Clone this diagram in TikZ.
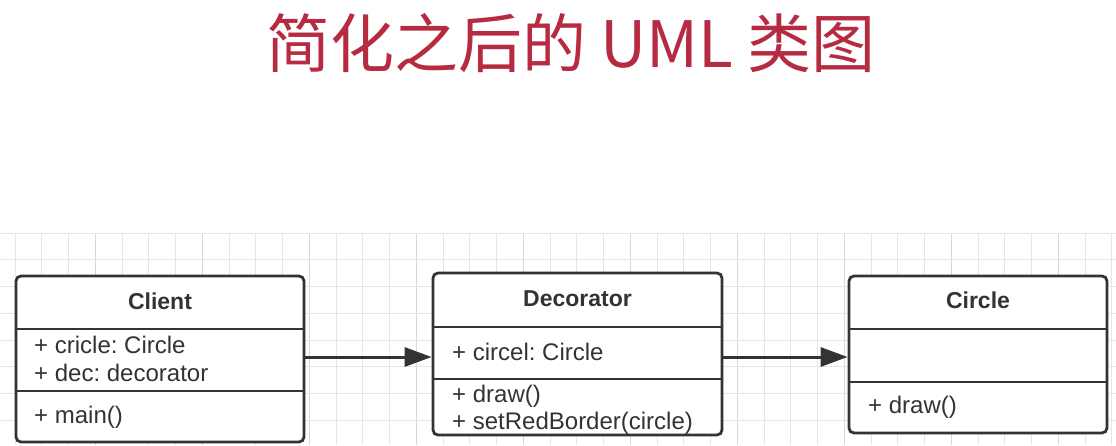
\documentclass[tikz,border=0pt]{standalone}
\usepackage{fontspec}
\setmainfont{Liberation Sans}
\newfontfamily\cjk{Noto Sans CJK SC}
\usetikzlibrary{arrows.meta}
\definecolor{titlered}{RGB}{182,42,66}
\definecolor{ink}{RGB}{51,51,51}
\definecolor{gridminor}{RGB}{230,230,230}
\definecolor{gridmajor}{RGB}{216,216,216}
\tikzset{
  umlbox/.style={draw=ink, line width=2.8pt, rounded corners=5pt, fill=white, inner sep=0pt},
  divider/.style={draw=ink, line width=2.6pt},
  classname/.style={font=\fontsize{23}{23}\selectfont\bfseries, text=ink, anchor=base, inner sep=0pt},
  member/.style={font=\fontsize{24}{24}\selectfont\frenchspacing, text=ink, anchor=base west, inner sep=0pt},
  assoc/.style={draw=ink, line width=3pt, -{Triangle[length=27pt, width=19pt]}},
}
\begin{document}
\frenchspacing
\begin{tikzpicture}[x=1pt,y=-1pt]
\useasboundingbox (0,0) rectangle (1116,445);
\fill[white] (0,0) rectangle (1116,445);
% grid
\foreach \k in {0,...,41} {
  \pgfmathtruncatemacro{\m}{mod(\k,4)}
  \ifnum\m=3
    \draw[gridmajor, line width=1.2pt] (15+26.75*\k,233) -- (15+26.75*\k,445);
  \else
    \draw[gridminor, line width=1pt] (15+26.75*\k,233) -- (15+26.75*\k,445);
  \fi
}
\foreach \k in {0,...,7} {
  \draw[gridminor, line width=1pt] (0,233+26.75*\k) -- (1116,233+26.75*\k);
}
% title
\node[font=\cjk\fontsize{64}{64}\selectfont, text=titlered, inner sep=0pt] (title) at (571,43) {简化之后的 UML 类图};
% boxes
\node[umlbox, minimum width=288pt, minimum height=166pt] (client) at (160,359) {};
\node[umlbox, minimum width=289pt, minimum height=162pt] (decorator) at (577.5,354) {};
\node[umlbox, minimum width=258pt, minimum height=157pt] (circle) at (978,354.5) {};
% dividers
\draw[divider] (client.west |- 0,329) -- (client.east |- 0,329);
\draw[divider] (client.west |- 0,391) -- (client.east |- 0,391);
\draw[divider] (decorator.west |- 0,327) -- (decorator.east |- 0,327);
\draw[divider] (decorator.west |- 0,379) -- (decorator.east |- 0,379);
\draw[divider] (circle.west |- 0,329) -- (circle.east |- 0,329);
\draw[divider] (circle.west |- 0,382) -- (circle.east |- 0,382);
% texts
\node[classname] (clientname) at (160,309) {Client};
\node[member] (clientA) at (34,353) {+ cricle: Circle};
\node[member] (clientB) at (34,381) {+ dec: decorator};
\node[member] (clientC) at (34,423) {+ main()};
\node[classname] (decname) at (577.5,306) {Decorator};
\node[member] (decA) at (452,360) {+ circel: Circle};
\node[member] (decB) at (452,402) {+ draw()};
\node[member] (decC) at (452,429) {+ setRedBorder(circle)};
\node[classname] (circlename) at (978,308) {Circle};
\node[member] (circleA) at (868,413) {+ draw()};
% connectors
\draw[assoc] (client.east |- 0,357) -- (decorator.west |- 0,357);
\draw[assoc] (decorator.east |- 0,357) -- (circle.west |- 0,357);
\end{tikzpicture}
\end{document}
